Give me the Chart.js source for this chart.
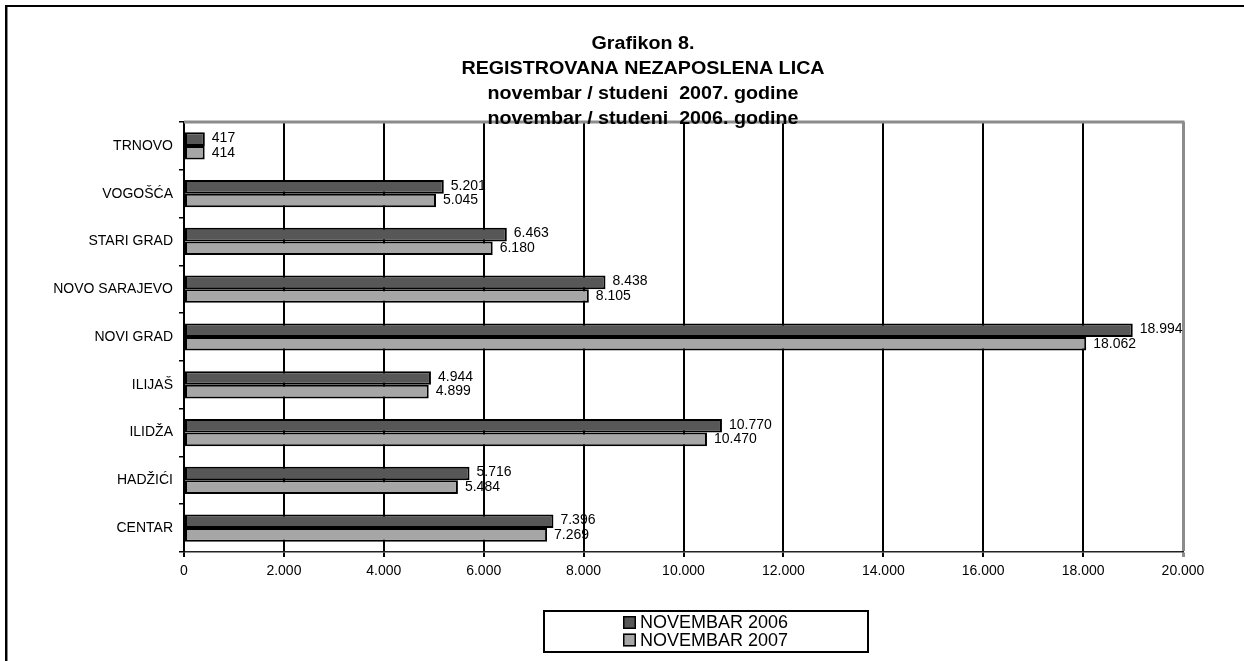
<!DOCTYPE html>
<html>
<head>
<meta charset="utf-8">
<script src="https://cdn.jsdelivr.net/npm/chart.js@4.4.0/dist/chart.umd.min.js"></script>
<style>
html,body{margin:0;padding:0;background:#fff;}
#wrap{position:relative;width:1244px;height:661px;}
</style>
</head>
<body>
<div id="wrap"><canvas id="c" width="1244" height="661"></canvas></div>
<script>
// ---- data ----
const categories = ['TRNOVO', 'VOGOŠĆA', 'STARI GRAD', 'NOVO SARAJEVO', 'NOVI GRAD', 'ILIJAŠ', 'ILIDŽA', 'HADŽIĆI', 'CENTAR'];
const nov2006 = [417, 5201, 6463, 8438, 18994, 4944, 10770, 5716, 7396];
const nov2007 = [414, 5045, 6180, 8105, 18062, 4899, 10470, 5484, 7269];
const seriesNames = ['NOVEMBAR 2006', 'NOVEMBAR 2007'];
const titleLines = ['Grafikon 8.', 'REGISTROVANA NEZAPOSLENA LICA', 'novembar / studeni  2007. godine', 'novembar / studeni  2006. godine'];
const xMin = 0, xMax = 20000, xStep = 2000;

const FONT = 'Arial, "Liberation Sans", sans-serif';
function fmt(n) { return String(n).replace(/\B(?=(\d{3})+(?!\d))/g, '.'); }

const framePlugin = {
  id: 'frame',
  beforeDraw(chart) {
    const ctx = chart.ctx;
    ctx.save();
    ctx.fillStyle = '#fff';
    ctx.fillRect(0, 0, chart.width, chart.height);
    ctx.fillStyle = '#000';
    ctx.fillRect(5, 5, chart.width - 5, 2);
    ctx.fillRect(5, 5, 2, chart.height - 5);
    ctx.fillStyle = '#888';
    ctx.fillRect(7, 7, 1, chart.height - 7);
    ctx.restore();
  },
  afterDraw(chart) {
    const ctx = chart.ctx;
    const a = chart.chartArea;
    ctx.save();
    // plot area top border (gray)
    ctx.strokeStyle = '#8c8c8c';
    ctx.lineWidth = 3;
    ctx.beginPath();
    ctx.moveTo(a.left, a.top);
    ctx.lineTo(a.right + 1.5, a.top);
    ctx.stroke();
    // title (slightly stretched horizontally like the original)
    ctx.fillStyle = '#000';
    ctx.font = 'bold 18px ' + FONT;
    ctx.textAlign = 'center';
    ctx.textBaseline = 'alphabetic';
    const base = [49, 74, 99, 124];
    const sx = 1.095, cx = 643;
    titleLines.forEach((t, i) => {
      ctx.save();
      ctx.translate(cx, base[i]);
      ctx.scale(sx, 1);
      ctx.fillText(t, 0, 0);
      ctx.restore();
    });
    // legend
    ctx.lineWidth = 2;
    ctx.strokeStyle = '#000';
    ctx.strokeRect(544, 611, 324, 41);
    const rows = [622.5, 640];
    ctx.font = '18px ' + FONT;
    ctx.textAlign = 'left';
    ctx.textBaseline = 'middle';
    chart.data.datasets.forEach((ds, i) => {
      const y = rows[i];
      ctx.fillStyle = ds.backgroundColor;
      ctx.fillRect(623, y - 6.5, 13, 13);
      ctx.lineWidth = 1.5;
      ctx.strokeStyle = '#000';
      ctx.strokeRect(623.75, y - 5.75, 11.5, 11.5);
      ctx.fillStyle = '#000';
      ctx.fillText(ds.label, 640, y + 1);
    });
    ctx.restore();
  },
  afterDatasetsDraw(chart) {
    const ctx = chart.ctx;
    ctx.save();
    ctx.font = '14px ' + FONT;
    ctx.fillStyle = '#000';
    ctx.textAlign = 'left';
    ctx.textBaseline = 'middle';
    chart.data.datasets.forEach((ds, di) => {
      const meta = chart.getDatasetMeta(di);
      meta.data.forEach((bar, i) => {
        ctx.fillText(fmt(ds.data[i]), bar.x + 7, bar.y + (di === 0 ? -1 : 0));
      });
    });
    ctx.restore();
  }
};

new Chart(document.getElementById('c'), {
  type: 'bar',
  data: {
    labels: categories,
    datasets: [
      { label: seriesNames[0], data: nov2006, backgroundColor: '#575757', borderColor: '#000', borderWidth: 2, borderSkipped: false },
      { label: seriesNames[1], data: nov2007, backgroundColor: '#a6a6a6', borderColor: '#000', borderWidth: 2, borderSkipped: false }
    ]
  },
  options: {
    indexAxis: 'y',
    responsive: false,
    animation: false,
    devicePixelRatio: 1,
    datasets: { bar: { barPercentage: 1, categoryPercentage: 0.57 } },
    layout: { padding: { left: 0, right: 61, top: 122, bottom: 0 } },
    plugins: { legend: { display: false }, title: { display: false }, tooltip: { enabled: false } },
    scales: {
      x: {
        type: 'linear', min: xMin, max: xMax,
        ticks: { stepSize: xStep, color: '#000', font: { family: FONT, size: 14 }, padding: 6, callback: v => fmt(v) },
        grid: {
          color: c => (c.tick && c.tick.value === xMax) ? '#8c8c8c' : '#000',
          lineWidth: c => (c.tick && c.tick.value === xMax) ? 3 : 2,
          tickLength: 5
        },
        border: { color: '#222', width: 1.5 },
        afterFit: s => { s.height = 109; }
      },
      y: {
        type: 'category',
        ticks: { color: '#000', font: { family: FONT, size: 14 }, padding: 6 },
        grid: { offset: true, drawOnChartArea: false, color: '#000', lineWidth: 1.5, tickLength: 5 },
        border: { color: '#000', width: 2 },
        afterFit: s => { s.width = 184; }
      }
    }
  },
  plugins: [framePlugin]
});
</script>
</body>
</html>
